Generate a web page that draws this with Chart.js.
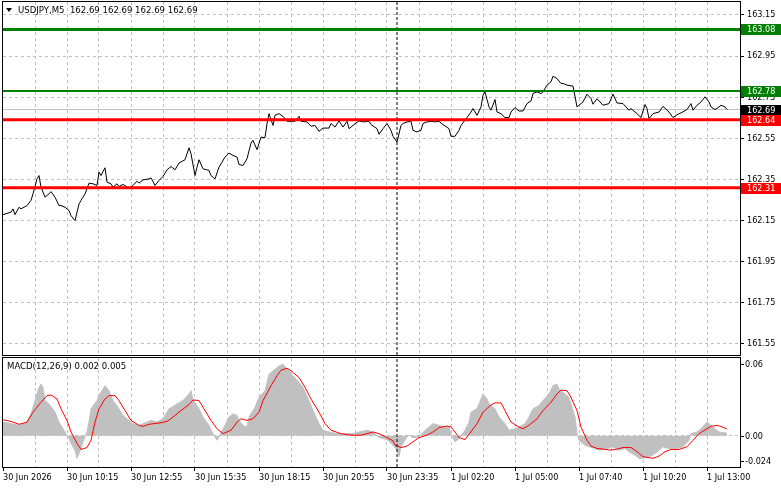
<!DOCTYPE html>
<html>
<head>
<meta charset="utf-8">
<script src="https://cdn.jsdelivr.net/npm/chart.js@4.4.0/dist/chart.umd.min.js"></script>
<style>
  html, body { margin: 0; padding: 0; background: #fff; }
  #wrap { position: relative; width: 781px; height: 489px; overflow: hidden; }
  #priceChart { position: absolute; left: 0; top: 0; }
  #macdChart { position: absolute; left: 0; top: 356px; }
</style>
</head>
<body>
<div id="wrap">
  <canvas id="priceChart" width="781" height="356"></canvas>
  <canvas id="macdChart" width="781" height="133"></canvas>
</div>
<script>
// M5 bars, index 0 = first bar on screen
const priceBars = [0,4,5,6,8,9,12,14,15,17,18,19,21,23,24,26,28,29,31,33,34,36,38,39,41,43,45,47,48,49,51,52,54,55,57,58,60,62,63,65,67,68,70,73,74,76,78,80,82,84,86,88,91,93,94,96,97,98,100,103,104,106,108,109,111,113,115,117,118,120,122,124,125,127,129,131,132,133,135,136,138,140,142,144,146,148,149,152,154,156,158,160,163,164,166,168,170,172,173,175,178,180,183,184,187,188,190,192,194,195,197,199,200,202,204,205,207,209,210,212,214,216,218,220,223,224,226,228,229,231,234,235,237,239,240,241,243,244,246,247,249,251,253,254,256,258,260,262,264,265,267,269,270,272,274,275,277,279,280,282,285,287,289,290,292,294,295,297,299,300,303,305,307,310,313,314,317,319,321,322,323,325,328,330,333,335,337,339,342,344,345,347,349,351,353,354,356,358,359,361,362];
const priceValues = [162.179,162.191,162.207,162.179,162.215,162.207,162.223,162.248,162.280,162.353,162.369,162.313,162.264,162.280,162.291,162.264,162.223,162.223,162.215,162.199,162.174,162.150,162.231,162.248,162.280,162.332,162.329,162.321,162.386,162.369,162.407,162.337,162.329,162.313,162.329,162.316,162.326,162.313,162.309,162.321,162.342,162.332,162.348,162.353,162.358,162.321,162.345,162.365,162.397,162.413,162.397,162.430,162.446,162.504,162.475,162.369,162.410,162.446,162.402,162.394,162.369,162.353,162.410,162.426,162.459,162.478,162.467,162.459,162.423,162.418,162.451,162.527,162.540,162.495,162.556,162.553,162.622,162.670,162.613,162.662,162.670,162.657,162.633,162.633,162.633,162.657,162.633,162.630,162.609,162.613,162.584,162.600,162.600,162.622,162.605,162.635,162.605,162.633,162.597,162.613,162.635,162.630,162.633,162.617,162.597,162.570,162.597,162.622,162.589,162.560,162.532,162.613,162.622,162.630,162.633,162.589,162.581,162.589,162.622,162.630,162.633,162.630,162.633,162.617,162.597,162.560,162.560,162.589,162.613,162.638,162.678,162.695,162.662,162.703,162.760,162.776,162.703,162.687,162.739,162.678,162.670,162.651,162.651,162.678,162.700,162.683,162.683,162.719,162.732,162.768,162.776,162.768,162.776,162.809,162.825,162.852,162.841,162.817,162.817,162.809,162.804,162.703,162.719,162.727,162.765,162.743,162.716,162.743,162.722,162.711,162.719,162.765,162.722,162.719,162.687,162.695,162.670,162.651,162.714,162.695,162.646,162.670,162.678,162.706,162.678,162.651,162.665,162.674,162.690,162.719,162.687,162.711,162.727,162.752,162.727,162.703,162.690,162.703,162.711,162.703,162.690];

const macdBars = [0,4,8,12,14,16,18,19,20,21,23,26,28,31,33,34,36,37,39,40,42,43,44,47,48,50,51,53,55,58,60,63,65,68,72,74,77,80,83,87,90,93,94,95,97,98,100,103,105,107,108,111,113,115,117,118,120,122,123,126,128,131,133,136,138,140,143,145,148,150,153,155,158,160,163,167,172,175,178,182,185,188,192,195,197,198,199,202,203,205,208,211,213,215,218,220,223,224,226,228,231,233,234,237,238,240,242,243,246,248,251,253,256,258,261,263,265,268,270,273,275,277,278,280,283,284,286,287,288,291,293,296,298,302,305,308,311,313,316,318,320,323,325,328,330,333,337,340,343,344,347,349,352,353,356,358,362];
const macdValues = [0.0106,0.0094,0.0081,0.0106,0.0170,0.0272,0.0374,0.0399,0.0374,0.0272,0.0246,0.0183,0.0106,0.0030,-0.0021,-0.0059,-0.0110,-0.0173,-0.0097,-0.0046,0.0030,0.0106,0.0208,0.0272,0.0310,0.0361,0.0386,0.0348,0.0272,0.0208,0.0157,0.0119,0.0094,0.0081,0.0106,0.0119,0.0106,0.0132,0.0208,0.0246,0.0272,0.0323,0.0348,0.0272,0.0234,0.0208,0.0145,0.0081,0.0017,-0.0034,-0.0008,0.0081,0.0145,0.0170,0.0157,0.0119,0.0081,0.0068,0.0145,0.0221,0.0297,0.0348,0.0475,0.0514,0.0539,0.0552,0.0501,0.0463,0.0412,0.0374,0.0272,0.0195,0.0094,0.0043,0.0030,0.0017,0.0017,0.0017,0.0030,0.0043,0.0030,-0.0013,-0.0029,-0.0072,-0.0110,-0.0160,-0.0084,-0.0008,0.0005,-0.0013,-0.0008,0.0043,0.0068,0.0094,0.0081,0.0073,0.0068,0.0017,-0.0046,-0.0021,0.0043,0.0106,0.0183,0.0208,0.0246,0.0323,0.0285,0.0246,0.0208,0.0145,0.0094,0.0043,0.0055,0.0068,0.0094,0.0145,0.0208,0.0234,0.0272,0.0323,0.0386,0.0399,0.0361,0.0336,0.0297,0.0246,0.0145,0.0017,-0.0034,-0.0072,-0.0084,-0.0097,-0.0110,-0.0097,-0.0084,-0.0110,-0.0097,-0.0122,-0.0148,-0.0173,-0.0173,-0.0160,-0.0148,-0.0110,-0.0084,-0.0097,-0.0097,-0.0084,-0.0034,0.0017,0.0030,0.0055,0.0106,0.0094,0.0055,0.0030,0.0020];

const signalBars = [0,4,8,12,15,19,22,24,27,29,32,34,37,39,42,44,46,48,51,53,56,58,61,64,68,70,73,78,82,85,89,93,95,98,100,104,107,110,114,117,119,122,125,128,130,134,137,139,142,144,148,151,154,158,161,164,169,174,179,182,185,188,192,195,196,199,202,205,208,212,215,218,222,224,226,228,231,233,237,240,244,246,249,251,254,258,260,263,267,270,274,277,279,282,284,287,289,292,294,297,300,304,307,310,314,317,320,323,325,328,331,334,338,342,345,348,352,354,357,359,362];
const signalValues = [0.0124,0.0111,0.0089,0.0106,0.0183,0.0259,0.0310,0.0315,0.0284,0.0208,0.0119,0.0030,-0.0059,-0.0105,-0.0090,-0.0034,0.0106,0.0208,0.0284,0.0310,0.0310,0.0272,0.0195,0.0119,0.0081,0.0073,0.0089,0.0099,0.0111,0.0145,0.0195,0.0241,0.0277,0.0272,0.0221,0.0119,0.0055,0.0017,0.0043,0.0106,0.0132,0.0119,0.0132,0.0183,0.0272,0.0386,0.0463,0.0506,0.0521,0.0501,0.0450,0.0374,0.0284,0.0183,0.0094,0.0043,0.0017,0.0005,0.0005,0.0017,0.0030,0.0017,-0.0013,-0.0039,-0.0072,-0.0090,-0.0079,-0.0046,-0.0013,0.0005,0.0030,0.0063,0.0076,0.0068,0.0030,-0.0013,-0.0029,0.0012,0.0094,0.0183,0.0239,0.0254,0.0254,0.0195,0.0106,0.0068,0.0055,0.0081,0.0132,0.0195,0.0259,0.0323,0.0353,0.0348,0.0297,0.0195,0.0068,-0.0034,-0.0079,-0.0097,-0.0102,-0.0110,-0.0102,-0.0090,-0.0090,-0.0122,-0.0160,-0.0168,-0.0173,-0.0156,-0.0122,-0.0105,-0.0105,-0.0084,-0.0034,0.0017,0.0055,0.0073,0.0081,0.0073,0.0053];

const priceTicks = [163.15, 162.95, 162.75, 162.55, 162.35, 162.15, 161.95, 161.75, 161.55];
const macdTicks = [0.06, 0.00, -0.024];
const timeLabels = ['30 Jun 2026', '30 Jun 10:15', '30 Jun 12:55', '30 Jun 15:35', '30 Jun 18:15', '30 Jun 20:55',
  '30 Jun 23:35', '1 Jul 02:20', '1 Jul 05:00', '1 Jul 07:40', '1 Jul 10:20', '1 Jul 13:00'];
const labelBars = [0, 32, 64, 96, 128, 160, 192, 224, 256, 288, 320, 352];
const daySeparatorBar = 197;

const levelPrices = [163.08, 162.78, 162.64, 162.31];
const levelColors = ['#008000', '#008000', '#ff0000', '#ff0000'];
const lastPrice = 162.69;
const macdMain = 0.002;
const macdSignal = 0.005;

// visible window
const X_MIN = 0, X_MAX = 368.5;
const PRICE_MIN = 161.4963, PRICE_MAX = 163.2132;
const MACD_MIN = -0.024, MACD_MAX = 0.06;

const FONT_FAMILY = "'DejaVu Sans Condensed', 'Liberation Sans', Arial, sans-serif";
const FONT_SIZE = 9;
const GRID = '#c0c0c0';

const gridBars = [];
labelBars.forEach(b => { gridBars.push(b, b + 16); });
const xGrid = gridBars.filter(b => b < X_MAX - 1);

const toPoints = (xs, ys) => xs.map((x, i) => ({ x, y: ys[i] }));

// keep the plot area fixed: no extra room for overhanging labels
const noPadding = s => {
  s.paddingTop = 0;
  s.paddingBottom = 0;
  s.paddingLeft = 0;
  s.paddingRight = 0;
};

const chartFrame = {
  id: 'chartFrame',
  afterDraw(chart) {
    const { ctx, chartArea: a } = chart;
    ctx.save();
    ctx.strokeStyle = '#000';
    ctx.lineWidth = 1;
    ctx.strokeRect(a.left - 0.5, a.top - 0.5, a.right - a.left + 1, a.bottom - a.top + 1);
    ctx.restore();
  }
};

const priceTags = {
  id: 'priceTags',
  afterDraw(chart) {
    const { ctx, chartArea: a } = chart;
    const y = chart.scales.y;
    const tags = levelPrices.map((p, i) => ({ p, bg: levelColors[i] }));
    tags.push({ p: lastPrice, bg: '#000' });
    tags.sort((m, n) => n.p - m.p);
    ctx.save();
    ctx.font = `${FONT_SIZE}px ${FONT_FAMILY}`;
    ctx.textBaseline = 'middle';
    tags.forEach(t => {
      const py = Math.round(y.getPixelForValue(t.p));
      ctx.fillStyle = t.bg;
      ctx.fillRect(a.right + 1, py - 5, chart.width - a.right - 1, 11);
      ctx.fillStyle = '#fff';
      ctx.fillText(t.p.toFixed(2), a.right + 7, py + 0.5);
    });
    // symbol header
    ctx.fillStyle = '#000';
    ctx.beginPath();
    ctx.moveTo(6, 8);
    ctx.lineTo(12, 8);
    ctx.lineTo(9, 12);
    ctx.closePath();
    ctx.fill();
    ctx.font = `9.5px ${FONT_FAMILY}`;
    const q = lastPrice.toFixed(2);
    ctx.fillText(`USDJPY,M5  ${q} ${q} ${q} ${q}`, 18, 10.5);
    ctx.restore();
  }
};

const macdAxis = {
  id: 'macdAxis',
  afterDraw(chart) {
    const { ctx, chartArea: a } = chart;
    const y = chart.scales.y;
    ctx.save();
    ctx.font = `${FONT_SIZE}px ${FONT_FAMILY}`;
    ctx.textBaseline = 'middle';
    ctx.fillStyle = '#000';
    ctx.strokeStyle = '#000';
    ctx.lineWidth = 1;
    macdTicks.forEach(v => {
      let py = Math.round(y.getPixelForValue(v));
      py = Math.min(Math.max(py, a.top + 6), a.bottom - 6);
      ctx.beginPath();
      ctx.moveTo(a.right, py + 0.5);
      ctx.lineTo(a.right + 4, py + 0.5);
      ctx.stroke();
      const txt = v === 0 ? '0.00' : String(v);
      ctx.fillText(txt, a.right + 5, py + 0.5);
    });
    ctx.font = `9.5px ${FONT_FAMILY}`;
    ctx.fillText(`MACD(12,26,9) ${macdMain.toFixed(3)} ${macdSignal.toFixed(3)}`, 7, a.top + 8.5);
    ctx.restore();
  }
};

const hiddenGridAtZero = c => (c.tick && c.tick.value === 0 ? 'rgba(0,0,0,0)' : GRID);

// ---- price panel ----
const priceDatasets = [];
levelPrices.forEach((p, i) => {
  priceDatasets.push({
    data: [{ x: X_MIN, y: p }, { x: X_MAX, y: p }],
    borderColor: levelColors[i],
    borderWidth: i === 1 ? 2 : 3,
    pointRadius: 0,
    order: 1
  });
});
priceDatasets.push({
  data: toPoints(priceBars, priceValues),
  borderColor: '#000',
  borderWidth: 1,
  pointRadius: 0,
  order: 2
});
priceDatasets.push({
  data: [{ x: X_MIN, y: lastPrice }, { x: X_MAX, y: lastPrice }],
  borderColor: GRID,
  borderWidth: 1,
  pointRadius: 0,
  order: 3
});
priceDatasets.push({
  data: [{ x: daySeparatorBar, y: PRICE_MIN }, { x: daySeparatorBar, y: PRICE_MAX }],
  borderColor: '#000',
  borderWidth: 1,
  borderDash: [3, 2],
  pointRadius: 0,
  order: 4
});

new Chart(document.getElementById('priceChart'), {
  type: 'line',
  data: { datasets: priceDatasets },
  options: {
    responsive: false,
    animation: false,
    events: [],
    layout: { padding: { left: 3, top: 2, right: 0, bottom: 1 } },
    plugins: { legend: { display: false }, tooltip: { enabled: false } },
    scales: {
      x: {
        type: 'linear',
        min: X_MIN,
        max: X_MAX,
        afterBuildTicks: s => { s.ticks = xGrid.map(v => ({ value: v })); },
        afterFit: s => { s.height = 0; noPadding(s); },
        ticks: { display: false },
        grid: { color: hiddenGridAtZero, drawTicks: false },
        border: { display: false, dash: [3, 3] }
      },
      y: {
        type: 'linear',
        position: 'right',
        min: PRICE_MIN,
        max: PRICE_MAX,
        afterBuildTicks: s => { s.ticks = priceTicks.map(v => ({ value: v })); },
        afterFit: s => { s.width = 41; noPadding(s); },
        ticks: {
          color: '#000',
          padding: 3,
          font: { family: FONT_FAMILY, size: FONT_SIZE },
          callback: v => Number(v).toFixed(2)
        },
        grid: { color: GRID, tickLength: 4, tickColor: '#000', tickBorderDash: [] },
        border: { display: false, dash: [3, 3] }
      }
    }
  },
  plugins: [chartFrame, priceTags]
});

// ---- MACD panel ----
new Chart(document.getElementById('macdChart'), {
  type: 'line',
  data: {
    datasets: [
      {
        data: toPoints(signalBars, signalValues),
        borderColor: '#ff0000',
        borderWidth: 1,
        pointRadius: 0,
        order: 1
      },
      {
        data: toPoints(macdBars, macdValues),
        borderColor: GRID,
        backgroundColor: GRID,
        borderWidth: 1,
        fill: 'origin',
        pointRadius: 0,
        order: 2
      },
      {
        data: [{ x: daySeparatorBar, y: MACD_MIN }, { x: daySeparatorBar, y: MACD_MAX }],
        borderColor: '#000',
        borderWidth: 1,
        borderDash: [3, 2],
        pointRadius: 0,
        order: 0
      }
    ]
  },
  options: {
    responsive: false,
    animation: false,
    events: [],
    layout: { padding: { left: 3, top: 2, right: 0, bottom: 0 } },
    plugins: { legend: { display: false }, tooltip: { enabled: false } },
    scales: {
      x: {
        type: 'linear',
        min: X_MIN,
        max: X_MAX,
        afterBuildTicks: s => { s.ticks = xGrid.map(v => ({ value: v })); },
        afterFit: s => { s.height = 22; noPadding(s); },
        ticks: {
          autoSkip: false,
          maxRotation: 0,
          minRotation: 0,
          align: 'start',
          padding: 1,
          color: '#000',
          font: { family: FONT_FAMILY, size: FONT_SIZE },
          callback: v => {
            const k = labelBars.indexOf(v);
            return k >= 0 ? timeLabels[k] : '';
          }
        },
        grid: {
          color: hiddenGridAtZero,
          tickLength: 4,
          tickColor: c => (c.tick && labelBars.includes(c.tick.value) ? '#000' : 'rgba(0,0,0,0)'),
          tickBorderDash: []
        },
        border: { display: false, dash: [3, 3] }
      },
      y: {
        type: 'linear',
        position: 'right',
        min: MACD_MIN,
        max: MACD_MAX,
        afterBuildTicks: s => { s.ticks = macdTicks.map(v => ({ value: v })); },
        afterFit: s => { s.width = 41; noPadding(s); },
        ticks: { display: false },
        grid: {
          color: c => (c.tick && c.tick.value === 0 ? GRID : 'rgba(0,0,0,0)'),
          drawTicks: false
        },
        border: { display: false, dash: [3, 3] }
      }
    }
  },
  plugins: [chartFrame, macdAxis]
});
</script>
</body>
</html>
